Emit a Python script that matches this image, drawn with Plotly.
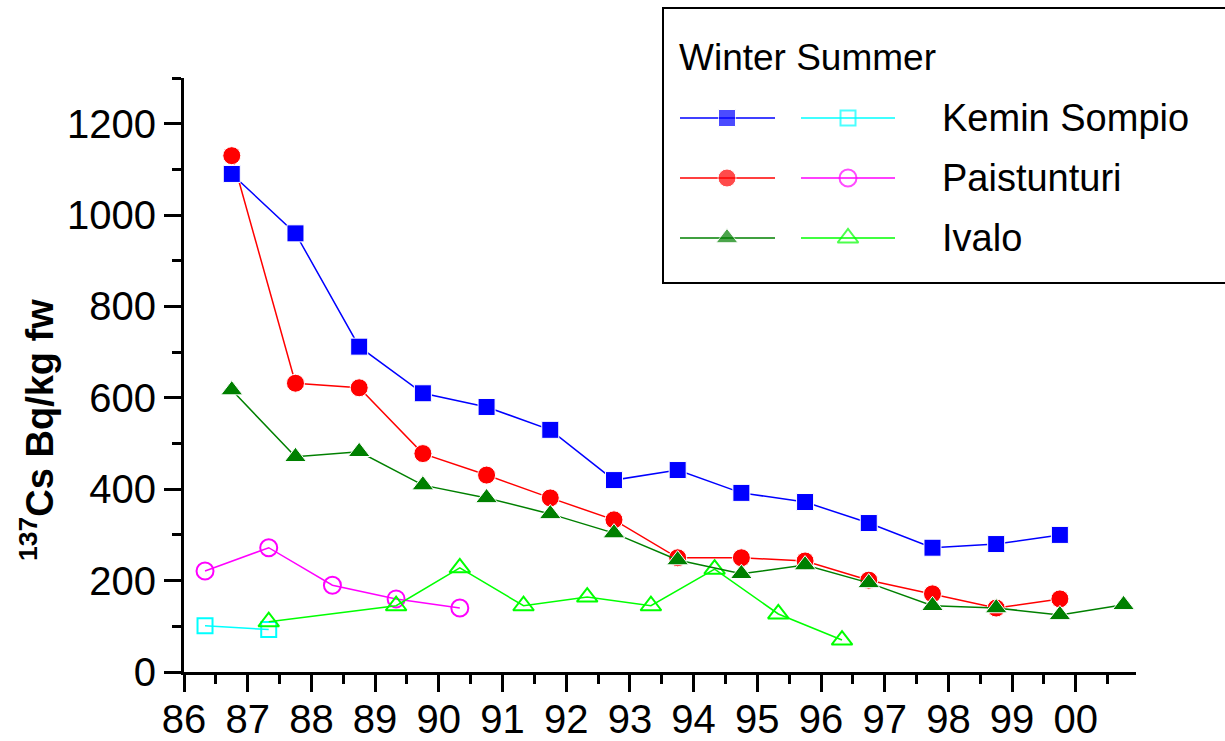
import plotly.graph_objects as go

# Sampling times (decimal year, 19xx) and 137Cs activity, Bq/kg fresh weight
winter_x = [86.75, 87.75, 88.75, 89.75, 90.75, 91.75, 92.75, 93.75, 94.75,
            95.75, 96.75, 97.75, 98.75, 99.75]
winter_x_ivalo = winter_x + [100.75]

kemin_winter = [1090, 960, 712, 610, 580, 530, 420, 442, 392, 372, 326, 272, 280, 300]
paist_winter = [1130, 632, 622, 478, 431, 381, 333, 250, 250, 243, 201, 171, 140, 160]
ivalo_winter = [617, 471, 482, 409, 381, 346, 304, 245, 215, 234, 195, 145, 140, 125, 147]

kemin_summer_x = [86.33, 87.33]
kemin_summer = [101, 93]
paist_summer_x = [86.33, 87.33, 88.33, 89.33, 90.33]
paist_summer = [221, 272, 190, 160, 140]
ivalo_summer_x = [87.33, 89.33, 90.33, 91.33, 92.33, 93.33, 94.33, 95.33, 96.33]
ivalo_summer = [110, 145, 228, 145, 164, 145, 225, 127, 70]

tick_years = list(range(86, 101))
tick_text = ["86", "87", "88", "89", "90", "91", "92", "93", "94", "95",
             "96", "97", "98", "99", "00"]
sites = ["Kemin Sompio", "Paistunturi", "Ivalo"]

FONT = "Liberation Sans, Arial, sans-serif"

# plot-area geometry in pixels (left, right, top, bottom)
PL, PR, PT, PB = 184, 1136, 78, 672


def px(x):
    return (x - PL) / (PR - PL)


def py(y):
    return (PB - y) / (PB - PT)


fig = go.Figure()


def add_series(x, y, color, symbol, size, open_marker):
    marker = dict(symbol=symbol, size=size, color=color)
    if open_marker:
        marker["line"] = dict(color=color, width=2)
    else:
        marker["line"] = dict(color="white", width=1)
    fig.add_trace(go.Scatter(x=x, y=y, mode="lines+markers",
                             line=dict(color=color, width=1.5),
                             marker=marker, showlegend=False,
                             cliponaxis=False))


# summer series (open symbols)
add_series(kemin_summer_x, kemin_summer, "#00FFFF", "square-open", 15, True)
add_series(paist_summer_x, paist_summer, "#FF00FF", "circle-open", 17, True)
add_series(ivalo_summer_x, ivalo_summer, "#00FF00", "triangle-up-open", 18, True)
# winter series (filled symbols)
add_series(winter_x, paist_winter, "#FF0000", "circle", 18, False)
add_series(winter_x, kemin_winter, "#0000FF", "square", 17, False)
add_series(winter_x_ivalo, ivalo_winter, "#008000", "triangle-up", 19, False)

# key panel drawn on a pixel-scaled overlay axis
key_styles = [
    ("#0000FF", "square", 17, "#00FFFF", "square-open", 15),
    ("#FF0000", "circle", 18, "#FF00FF", "circle-open", 17),
    ("#008000", "triangle-up", 19, "#00FF00", "triangle-up-open", 18),
]
row_y = [118, 178, 238]
for (wc, ws, wsz, sc, ss, ssz), yy, name in zip(key_styles, row_y, sites):
    fig.add_trace(go.Scatter(x=[680, 727, 775], y=[yy] * 3, mode="lines+markers",
                             line=dict(color=wc, width=1.5),
                             marker=dict(symbol=ws, size=[0, wsz, 0], color=wc),
                             xaxis="x2", yaxis="y2", showlegend=False))
    fig.add_trace(go.Scatter(x=[801, 848, 895], y=[yy] * 3, mode="lines+markers",
                             line=dict(color=sc, width=1.5),
                             marker=dict(symbol=ss, size=[0, ssz, 0], color=sc,
                                         line=dict(color=sc, width=2)),
                             xaxis="x2", yaxis="y2", showlegend=False))
    fig.add_annotation(x=px(940), y=py(yy), xref="paper", yref="paper", text=name,
                       showarrow=False, xanchor="left", yanchor="middle",
                       font=dict(family=FONT, size=38, color="black"))

fig.add_annotation(x=px(677), y=py(58), xref="paper", yref="paper",
                   text="Winter Summer",
                   showarrow=False, xanchor="left", yanchor="middle",
                   font=dict(family=FONT, size=37, color="black"))

fig.add_shape(type="rect", xref="paper", yref="paper",
              x0=px(663), x1=px(1240), y0=py(283), y1=py(8),
              line=dict(color="black", width=2), fillcolor="rgba(0,0,0,0)")

fig.add_annotation(x=px(37), y=py(430), xref="paper", yref="paper",
                   text="<b><sup>137</sup>Cs Bq/kg fw</b>", textangle=-90,
                   showarrow=False, xanchor="center", yanchor="middle",
                   font=dict(family=FONT, size=38, color="black"))

axis_common = dict(showline=True, linewidth=3, linecolor="black", ticks="outside",
                   ticklen=17, tickwidth=2.5, tickcolor="black", showgrid=False,
                   zeroline=False, automargin=False,
                   tickfont=dict(family=FONT, size=40, color="black"))

fig.update_layout(
    width=1225, height=741,
    margin=dict(l=PL, r=1225 - PR, t=PT, b=741 - PB, autoexpand=False),
    paper_bgcolor="white", plot_bgcolor="white",
    xaxis=dict(range=[86, 100.945], tickvals=tick_years, ticktext=tick_text,
               ticklabelstandoff=-7,
               minor=dict(dtick=0.5, tick0=86, ticks="outside", ticklen=9,
                          tickwidth=2.5, tickcolor="black"),
               **axis_common),
    yaxis=dict(range=[0, 1300], tick0=0, dtick=200,
               minor=dict(dtick=100, tick0=0, ticks="outside", ticklen=9,
                          tickwidth=2.5, tickcolor="black"),
               **axis_common),
    xaxis2=dict(domain=[0, 1], range=[PL, PR], visible=False, anchor="y2",
                overlaying="x", fixedrange=True),
    yaxis2=dict(domain=[0, 1], range=[PB, PT], visible=False, anchor="x2",
                overlaying="y", fixedrange=True),
)

fig.write_html("out.html")
